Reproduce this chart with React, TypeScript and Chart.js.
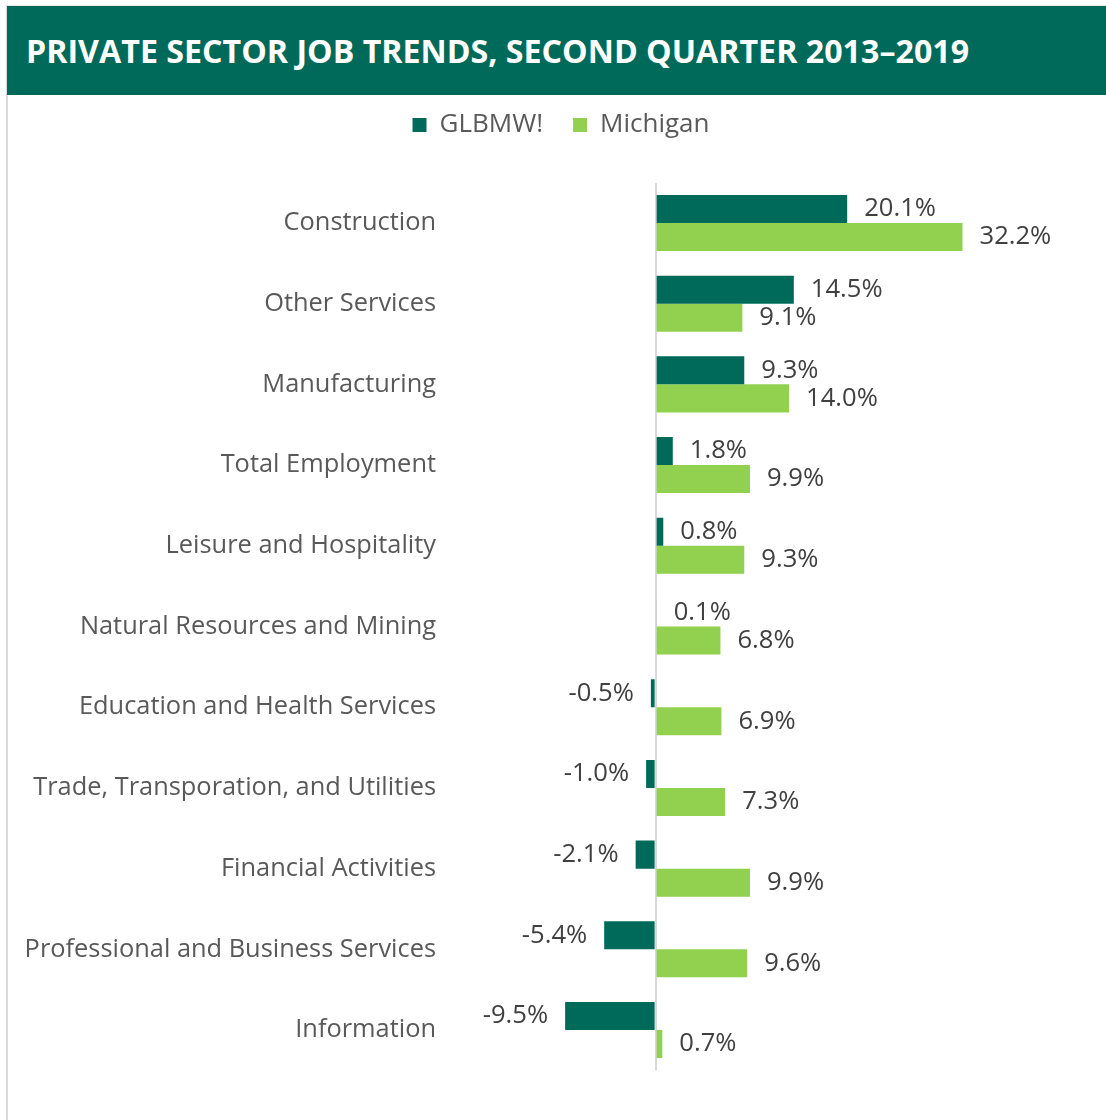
import React, { useEffect, useRef } from "react";
import { Chart, registerables } from "chart.js";

Chart.register(...registerables);

const TITLE = "PRIVATE SECTOR JOB TRENDS, SECOND QUARTER 2013–2019";
const categories = [
  "Construction",
  "Other Services",
  "Manufacturing",
  "Total Employment",
  "Leisure and Hospitality",
  "Natural Resources and Mining",
  "Education and Health Services",
  "Trade, Transporation, and Utilities",
  "Financial Activities",
  "Professional and Business Services",
  "Information",
];
const seriesNames = ["GLBMW!", "Michigan"];
const glbmwValues = [20.1, 14.5, 9.3, 1.8, 0.8, 0.1, -0.5, -1.0, -2.1, -5.4, -9.5];
const michiganValues = [32.2, 9.1, 14.0, 9.9, 9.3, 6.8, 6.9, 7.3, 9.9, 9.6, 0.7];

const DARK = "#006A5A";
const LIGHT = "#92D050";
const FONT = "'Open Sans', sans-serif";

const valueLabels = {
  id: "valueLabels",
  afterLayout(chart: any) {
    // let the category labels use the full left margin (avoid clipping)
    if (chart.scales.y) chart.scales.y.left = 0;
  },
  afterDatasetsDraw(chart: any) {
    const ctx = chart.ctx;
    ctx.save();
    ctx.font = `25.6px ${FONT}`;
    ctx.fillStyle = "#404040";
    ctx.textBaseline = "middle";
    chart.data.datasets.forEach((ds: any, di: number) => {
      const meta = chart.getDatasetMeta(di);
      meta.data.forEach((el: any, i: number) => {
        const v = ds.data[i];
        const txt = v.toFixed(1) + "%";
        if (v >= 0) {
          ctx.textAlign = "left";
          ctx.fillText(txt, Math.max(el.x, el.base) + 17, el.y);
        } else {
          ctx.textAlign = "right";
          ctx.fillText(txt, el.x - 17, el.y);
        }
      });
    });
    ctx.restore();
  },
};

export default function App() {
  const ref = useRef<HTMLCanvasElement>(null);
  useEffect(() => {
    if (!ref.current) return;
    const chart = new Chart(ref.current, {
      type: "bar",
      data: {
        labels: categories,
        datasets: [
          {
            label: seriesNames[0],
            data: glbmwValues,
            backgroundColor: DARK,
            categoryPercentage: 0.694,
            barPercentage: 1,
          },
          {
            label: seriesNames[1],
            data: michiganValues,
            backgroundColor: LIGHT,
            categoryPercentage: 0.694,
            barPercentage: 1,
          },
        ],
      },
      options: {
        indexAxis: "y",
        animation: false,
        responsive: false,
        maintainAspectRatio: false,
        layout: { padding: { top: -13, right: 12, bottom: 49.6, left: 28 } },
        plugins: {
          legend: {
            position: "top",
            labels: {
              boxWidth: 14,
              boxHeight: 14,
              padding: 30,
              color: "#595959",
              font: { family: FONT, size: 26 },
            },
          },
          tooltip: { enabled: false },
        },
        scales: {
          x: {
            position: "top",
            min: -22,
            max: 46,
            afterBuildTicks: (s: any) => {
              s.ticks = [{ value: 0 }];
            },
            afterFit: (s: any) => {
              s.height = 34.6;
            },
            ticks: { display: false },
            border: { display: false },
            grid: {
              drawTicks: false,
              lineWidth: 2,
              color: (c: any) => (c.tick && c.tick.value === 0 ? "#d9d9d9" : "transparent"),
            },
          },
          y: {
            afterFit: (s: any) => {
              s.width = 418;
            },
            ticks: {
              padding: 10,
              color: "#595959",
              font: { family: FONT, size: 25.4 },
            },
            border: { display: false },
            grid: { display: false, drawTicks: false },
          },
        },
      },
      plugins: [valueLabels],
    });
    return () => chart.destroy();
  }, []);

  return (
    <div style={{ position: "absolute", left: 0, top: 0, width: 1106, height: 1120, background: "#fff", overflow: "hidden" }}>
      <div
        style={{
          position: "absolute",
          left: 6,
          top: 5,
          width: 1100,
          height: 1115,
          borderLeft: "2px solid #d9d9d9",
          borderTop: "1px solid #e6e6e6",
          boxSizing: "border-box",
        }}
      />
      <div
        style={{
          position: "absolute",
          left: 7,
          top: 6,
          width: 1099,
          height: 89,
          background: DARK,
          color: "#fff",
          fontFamily: FONT,
          fontWeight: 700,
          fontSize: 32.2,
          lineHeight: "89px",
          paddingLeft: 19,
          boxSizing: "border-box",
          whiteSpace: "nowrap",
        }}
      >
        {TITLE}
      </div>
      <canvas ref={ref} width={1106} height={1025} style={{ position: "absolute", left: 0, top: 95, width: 1106, height: 1025 }} />
    </div>
  );
}
